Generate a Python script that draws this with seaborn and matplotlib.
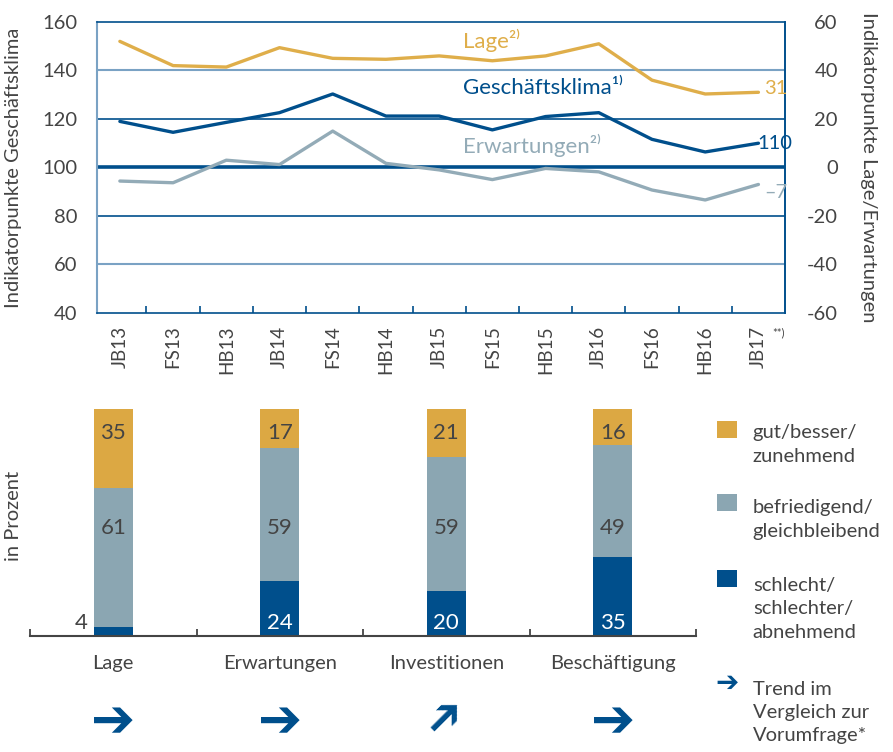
import numpy as np
import pandas as pd
import matplotlib
matplotlib.use("Agg")
import matplotlib.pyplot as plt
import seaborn as sns
from matplotlib.patches import Rectangle

# ---------------- data ----------------
periods = ["JB13", "FS13", "HB13", "JB14", "FS14", "HB14", "JB15",
           "FS15", "HB15", "JB16", "FS16", "HB16", "JB17"]
klima = [119, 114.5, 118.6, 122.6, 130.3, 121.2, 121.2, 115.5, 121, 122.6, 111.6, 106.4, 110]
lage = [52, 42, 41.4, 49.4, 45, 44.6, 46, 44, 46, 51, 36, 30.3, 31]
erwart = [-5.6, -6.3, 3, 1.2, 15, 1.7, -1, -5, -0.4, -1.8, -9.3, -13.4, -7]

bar_cats = ["Lage", "Erwartungen", "Investitionen", "Beschäftigung"]
gut = [35, 17, 21, 16]
mittel = [61, 59, 59, 49]
schlecht = [4, 24, 20, 35]
trend_rotation = [0, 0, 45, 0]

legend_labels = ["gut/besser/\nzunehmend", "befriedigend/\ngleichbleibend",
                 "schlecht/\nschlechter/\nabnehmend"]
trend_label = "Trend im\nVergleich zur\nVorumfrage*"

# ---------------- style ----------------
sns.set_theme(style="white")
plt.rcParams["font.family"] = ["Lato", "DejaVu Sans"]
plt.rcParams["axes.unicode_minus"] = False

GOLD = "#dca843"
GREY = "#8ba6b2"
NAVY = "#004f8c"
LGOLD = "#dfae4a"
LGREY = "#93abb7"
TXT = "#444444"
LBLUE = "#7aa2c4"
FS = 14.5

fig = plt.figure(figsize=(8.93, 7.52), dpi=100)

# ---------------- top line chart ----------------
ax = fig.add_axes([0.1086, 0.5838, 0.7705, 0.387])
x = np.arange(len(periods))
df = pd.DataFrame({"x": x, "klima": klima, "lage": lage, "erwart": erwart})

for yv, c, lw in [(60, LBLUE, 1.5), (80, NAVY, 1.2), (120, NAVY, 1.2), (140, LBLUE, 1.5)]:
    ax.axhline(yv, color=c, lw=lw, zorder=1)
ax.axhline(100, color=NAVY, lw=2.6, zorder=1)

sns.lineplot(data=df, x="x", y="klima", ax=ax, color=NAVY, lw=2.4, zorder=3)
ax.set_ylim(40, 160)
ax.set_xlim(-0.43, 12.5)

ax2 = ax.twinx()
sns.lineplot(data=df, x="x", y="lage", ax=ax2, color=LGOLD, lw=2.4)
sns.lineplot(data=df, x="x", y="erwart", ax=ax2, color=LGREY, lw=2.4)
ax2.set_ylim(-60, 60)
ax2.set_xlim(-0.43, 12.5)

for s in ["top", "bottom", "right"]:
    ax.spines[s].set_color(NAVY)
    ax.spines[s].set_linewidth(1.2)
ax.spines["left"].set_color(LBLUE)
ax.spines["left"].set_linewidth(1.5)
for s in ["top", "bottom", "left"]:
    ax2.spines[s].set_visible(False)
ax2.spines["right"].set_color(NAVY)
ax2.spines["right"].set_linewidth(1.2)

ax.set_xticks(x)
ax.set_xticklabels(periods, rotation=90, fontsize=FS - 1, color=TXT)
ax.set_xticks(x[:-1] + 0.5, minor=True)
ax.tick_params(axis="x", which="major", length=0, pad=9)
ax.tick_params(axis="x", which="minor", direction="in", length=5, width=1.2, color=NAVY, bottom=True)
ax.set_yticks([40, 60, 80, 100, 120, 140, 160])
ax.tick_params(axis="y", length=0, pad=14, labelsize=FS, labelcolor=TXT)
ax2.set_yticks([-60, -40, -20, 0, 20, 40, 60])
ax2.tick_params(axis="y", length=0, pad=38, labelsize=FS, labelcolor=TXT)
for lab in ax2.get_yticklabels():
    lab.set_horizontalalignment("right")

ax.set_xlabel("")
ax.set_ylabel("Indikatorpunkte Geschäftsklima", fontsize=FS, color=TXT)
ax.yaxis.set_label_coords(-0.109, 0.5)
ax2.set_ylabel("Indikatorpunkte Lage/Erwartungen", fontsize=FS, color=TXT, rotation=270, va="center")
ax2.yaxis.set_label_coords(1.1206, 0.5)

ax.text(6.44, 152.6, "Lage²⁾", color=LGOLD, fontsize=FS + 1.5, va="center", ha="left")
ax.text(6.44, 132.8, "Geschäftsklima¹⁾", color=NAVY, fontsize=FS + 1.5, va="center", ha="left")
ax.text(6.44, 109.3, "Erwartungen²⁾", color=LGREY, fontsize=FS + 1.5, va="center", ha="left")
ax2.text(12.1, lage[-1] + 1.5, f"{lage[-1]:g}", color=LGOLD, fontsize=FS, va="center", ha="left", clip_on=False, zorder=10)
ax.text(11.98, klima[-1], f"{klima[-1]:g}", color=NAVY, fontsize=FS, va="center", ha="left", clip_on=False, zorder=10)
ax2.text(12.1, erwart[-1] - 3.5, f"–{abs(erwart[-1]):g}", color=LGREY, fontsize=FS, va="center", ha="left", clip_on=False, zorder=10)
fig.text(0.872, 0.557, "**)", fontsize=8, color=TXT, ha="center", va="center")

# ---------------- bottom stacked bars ----------------
axb = fig.add_axes([0.0336, 0.1543, 0.7458, 0.3019])
tot = np.array(gut) + np.array(mittel) + np.array(schlecht)
mid_top = np.array(mittel) + np.array(schlecht)
sns.barplot(x=bar_cats, y=tot, color=GOLD, saturation=1, width=0.234, errorbar=None, ax=axb, linewidth=0)
sns.barplot(x=bar_cats, y=mid_top, color=GREY, saturation=1, width=0.234, errorbar=None, ax=axb, linewidth=0)
sns.barplot(x=bar_cats, y=schlecht, color=NAVY, saturation=1, width=0.234, errorbar=None, ax=axb, linewidth=0)
axb.set_xlim(-0.5, 3.5)
axb.set_ylim(0, 100)

for i in range(len(bar_cats)):
    axb.text(i, 89.5, str(gut[i]), ha="center", va="center", fontsize=FS + 1.5, color=TXT)
    axb.text(i, 47.5, str(mittel[i]), ha="center", va="center", fontsize=FS + 1.5, color=TXT)
    if schlecht[i] >= 10:
        axb.text(i, 5.6, str(schlecht[i]), ha="center", va="center", fontsize=FS + 1.5, color="white")
    else:
        axb.text(i - 0.19, 5.8, str(schlecht[i]), ha="center", va="center", fontsize=FS + 1.5, color=TXT)
    rot = trend_rotation[i]
    axb.text(i, -0.38 if rot == 0 else -0.36, "➔", transform=axb.get_xaxis_transform(),
             ha="center", va="center", fontsize=38 if rot == 0 else 34, color=NAVY,
             rotation=rot, family="DejaVu Sans", fontweight="normal", clip_on=False)

for s in ["top", "left", "right"]:
    axb.spines[s].set_visible(False)
axb.spines["bottom"].set_color(TXT)
axb.spines["bottom"].set_linewidth(1.5)
axb.set_yticks([])
axb.set_xticks(range(len(bar_cats)))
axb.set_xticklabels(bar_cats, fontsize=FS, color=TXT)
axb.set_xticks(np.arange(-0.5, 3.6, 1.0), minor=True)
axb.tick_params(axis="x", which="major", length=0, pad=14)
axb.tick_params(axis="x", which="minor", direction="in", length=5, width=1.3, color=TXT, bottom=True)
axb.set_xlabel("")
axb.set_ylabel("in Prozent", fontsize=FS, color=TXT)
axb.yaxis.set_label_coords(-0.012, 0.53)

# ---------------- legend ----------------
sq_bottoms = [0.4176, 0.3205, 0.2194]
txt_centers = [0.409, 0.3092, 0.1902]
for col, b, tc, lab in zip([GOLD, GREY, NAVY], sq_bottoms, txt_centers, legend_labels):
    fig.add_artist(Rectangle((0.803, b), 0.0224, 0.0232, transform=fig.transFigure,
                             facecolor=col, edgecolor="none"))
    fig.text(0.843, tc, lab, fontsize=FS, color=TXT, va="center", ha="left", linespacing=1.45)
fig.text(0.814, 0.0918, "➔", fontsize=20, color=NAVY, ha="center", va="center",
         family="DejaVu Sans", fontweight="normal")
fig.text(0.843, 0.0525, trend_label, fontsize=FS, color=TXT, va="center", ha="left", linespacing=1.45)

fig.savefig("out.png", dpi=100)
